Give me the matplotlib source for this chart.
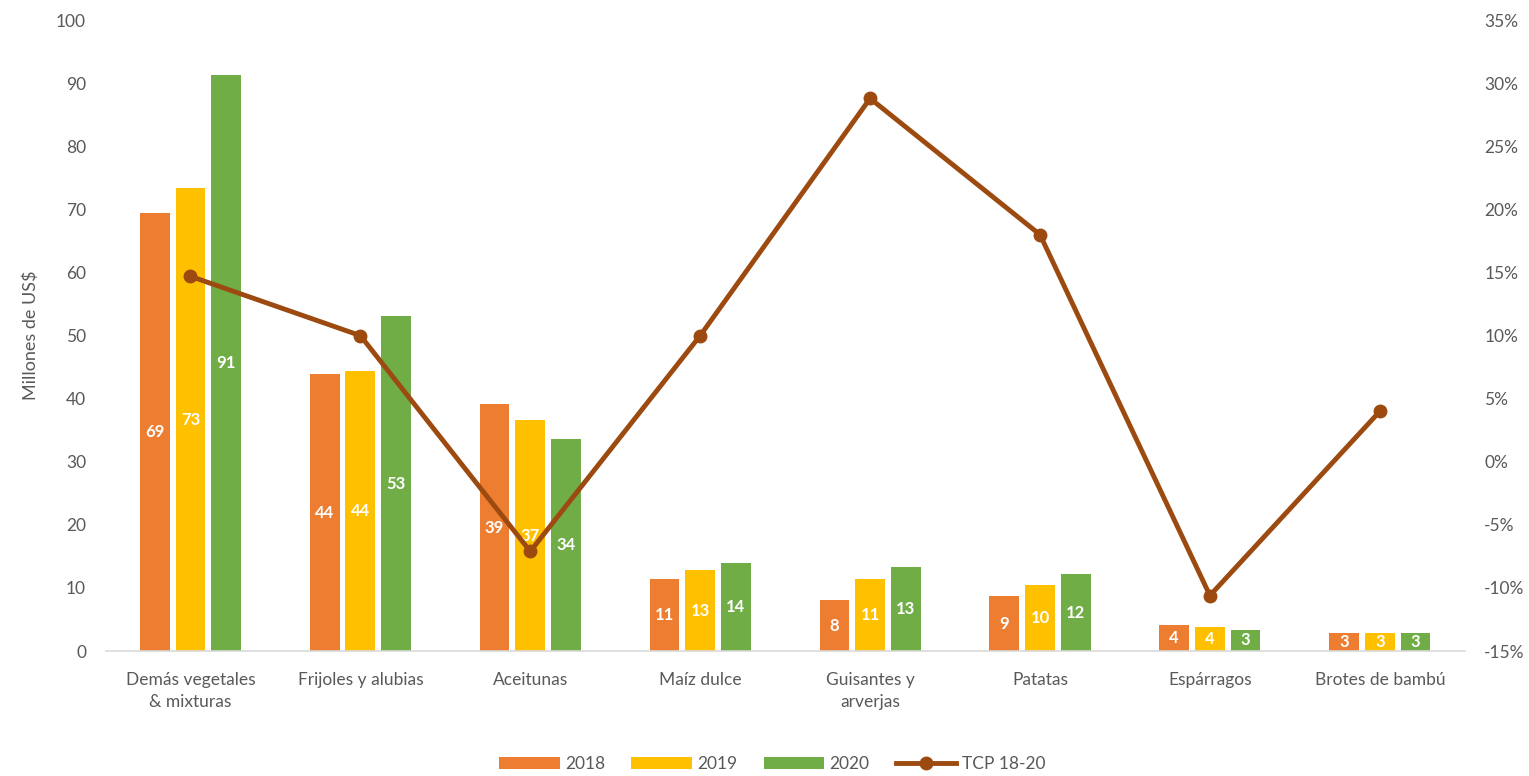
import numpy as np
import matplotlib.pyplot as plt
from matplotlib.ticker import FuncFormatter

plt.rcParams['font.family'] = ['Lato', 'DejaVu Sans']

categories = ["Demás vegetales\n& mixturas", "Frijoles y alubias", "Aceitunas", "Maíz dulce",
              "Guisantes y\narverjas", "Patatas", "Espárragos", "Brotes de bambú"]
v2018 = [69.4, 43.9, 39.1, 11.4, 8.1, 8.7, 4.2, 2.8]
v2019 = [73.4, 44.4, 36.6, 12.8, 11.4, 10.5, 3.8, 2.8]
v2020 = [91.3, 53.1, 33.6, 13.9, 13.4, 12.2, 3.4, 2.9]
tcp = [14.7, 10.0, -7.1, 10.0, 28.8, 18.0, -10.6, 4.0]

gray = "#595959"
fig = plt.figure(figsize=(15.29, 7.76), dpi=100)
ax = fig.add_axes([0.069, 0.161, 0.889, 0.813])
x = np.arange(len(categories))
w = 0.175
step = 0.21

series = [(v2018, "#ED7D31", "2018"), (v2019, "#FFC000", "2019"), (v2020, "#70AD47", "2020")]
handles = []
for i, (vals, col, lab) in enumerate(series):
    b = ax.bar(x + (i - 1) * step, vals, w, color=col, label=lab)
    handles.append(b)
    for xi, v in zip(x + (i - 1) * step, vals):
        ax.text(xi, v / 2, f"{v:.0f}", ha="center", va="center", color="white",
                fontsize=12, fontweight="bold")

ax.set_xlim(-0.5, len(categories) - 0.5)
ax.set_ylim(0, 100)
ax.set_yticks(range(0, 101, 10))
ax.set_xticks(x)
ax.set_xticklabels(categories, fontsize=12.5, color=gray, linespacing=1.45)
ax.tick_params(axis="y", labelsize=12.5, colors=gray, length=0, pad=14)
ax.tick_params(axis="x", length=0, pad=15)
for s in ["top", "right", "left"]:
    ax.spines[s].set_visible(False)
ax.spines["bottom"].set_color("#D9D9D9")
ax.spines["bottom"].set_linewidth(1.2)
ax.set_ylabel("Millones de US$", fontsize=13, color=gray, labelpad=12)

ax2 = ax.twinx()
ln, = ax2.plot(x, tcp, color="#9C4A10", lw=3.5, marker="o", markersize=9, label="TCP 18-20")
ax2.set_ylim(-15, 35)
ax2.set_yticks(range(-15, 36, 5))
ax2.yaxis.set_major_formatter(FuncFormatter(lambda v, p: f"{v:.0f}%"))
ax2.tick_params(axis="y", labelsize=12.5, colors=gray, length=0, pad=14)
for s in ax2.spines.values():
    s.set_visible(False)

fig.legend(handles + [ln], ["2018", "2019", "2020", "TCP 18-20"], loc="lower center",
           bbox_to_anchor=(0.505, -0.015), ncol=4, frameon=False, fontsize=12.5,
           labelcolor=gray, handlelength=3.5, handleheight=0.7, columnspacing=1.5,
           handletextpad=0.3)

fig.savefig("out.png", dpi=100)
